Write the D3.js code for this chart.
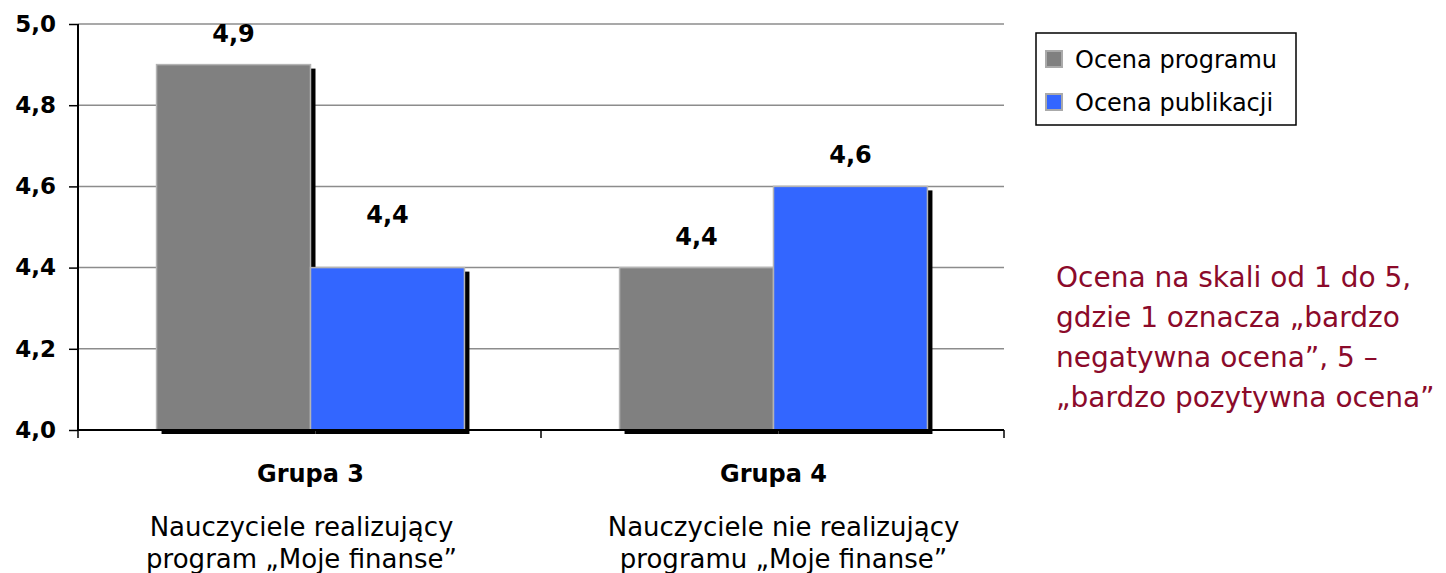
<!DOCTYPE html>
<html>
<head>
  <meta charset="utf-8">
  <title>Ocena programu i publikacji</title>
  <script src="https://d3js.org/d3.v7.min.js"></script>
  <style>
    body { margin: 0; background: #fff; }
    text { font-family: "DejaVu Sans", sans-serif; }
  </style>
</head>
<body>
  <div id="chart"></div>
  <script>
    // data
    var groups = ['Grupa 3', 'Grupa 4'];
    var groupNotes = [
      ['Nauczyciele realizujący', 'program „Moje finanse”'],
      ['Nauczyciele nie realizujący', 'programu „Moje finanse”']
    ];
    var seriesNames = ['Ocena programu', 'Ocena publikacji'];
    var seriesColours = ['#808080', '#3366ff'];
    var programu = [4.9, 4.4];
    var publikacji = [4.4, 4.6];
    var yTicks = [4.0, 4.2, 4.4, 4.6, 4.8, 5.0];
    var noteLines = [
      'Ocena na skali od 1 do 5,',
      'gdzie 1 oznacza „bardzo',
      'negatywna ocena”, 5 –',
      '„bardzo pozytywna ocena”'
    ];
    // how far above each bar its label sits (series x group)
    var labelLift = [[23, 23], [45, 23]];

    var W = 1446, H = 573;
    var margin = {top: 24, left: 78, right: 442, bottom: 143};
    var width = W - margin.left - margin.right,
        height = H - margin.top - margin.bottom;

    var svg = d3.select('#chart').append('svg')
      .attr('width', W)
      .attr('height', H);

    var gp = svg.append('g').attr('transform', `translate(${margin.left},${margin.top})`);

    var x0 = d3.scaleBand().domain(groups).range([1, width + 1]).paddingInner(0.335).paddingOuter(0.1675);
    var x1 = d3.scaleBand().domain(seriesNames).range([0, x0.bandwidth()]);
    var y = d3.scaleLinear().domain([4.0, 5.0]).range([height, 0]);
    var fmt = v => d3.format('.1f')(v).replace('.', ',');

    // gridlines
    gp.selectAll('.grid')
      .data(yTicks.slice(1))
      .enter()
      .append('line')
        .attr('x1', 0).attr('x2', width)
        .attr('y1', d => y(d)).attr('y2', d => y(d))
        .attr('stroke', '#8c8c8c')
        .attr('stroke-width', 1.5);

    var rows = seriesNames.map((s, i) => ({
      name: s,
      colour: seriesColours[i],
      values: (i === 0 ? programu : publikacji)
    }));
    var bars = [];
    rows.forEach((r, si) => r.values.forEach((v, gi) => bars.push({series: r.name, si: si, gi: gi, group: groups[gi], value: v, colour: r.colour})));

    // shadows
    gp.selectAll('.shadow')
      .data(bars)
      .enter()
      .append('rect')
        .attr('x', d => x0(d.group) + x1(d.series) + 5)
        .attr('y', d => y(d.value) + 4)
        .attr('width', x1.bandwidth())
        .attr('height', d => height - y(d.value))
        .attr('fill', '#000');

    gp.selectAll('.bar')
      .data(bars)
      .enter()
      .append('rect')
        .attr('x', d => x0(d.group) + x1(d.series))
        .attr('y', d => y(d.value))
        .attr('width', x1.bandwidth())
        .attr('height', d => height - y(d.value))
        .attr('fill', d => d.colour)
        .attr('stroke', '#b4b4b4')
        .attr('stroke-width', 1.5);

    gp.selectAll('.val')
      .data(bars)
      .enter()
      .append('text')
        .attr('x', d => x0(d.group) + x1(d.series) + x1.bandwidth() / 2)
        .attr('y', d => y(d.value) - labelLift[d.si][d.gi])
        .attr('text-anchor', 'middle')
        .style('font-size', '24px')
        .style('font-weight', 'bold')
        .text(d => fmt(d.value));

    // y axis
    var yAxis = gp.append('g')
      .call(d3.axisLeft(y).tickValues(yTicks).tickFormat(fmt).tickSize(9).tickPadding(13));
    yAxis.select('.domain').attr('stroke', '#000').attr('stroke-width', 2).attr('d', `M0,0V${height}`);
    yAxis.selectAll('.tick line').attr('stroke-width', 1.5);
    yAxis.selectAll('text')
      .style('font-size', '23px')
      .style('font-weight', 'bold')
      .attr('fill', '#000');

    // x axis
    var xAxis = gp.append('g').attr('transform', `translate(0,${height})`);
    xAxis.append('line')
      .attr('x1', 0).attr('x2', width)
      .attr('stroke', '#000').attr('stroke-width', 2);
    xAxis.selectAll('.xtick')
      .data([0, 1, 2])
      .enter()
      .append('line')
        .attr('x1', d => d * width / 2).attr('x2', d => d * width / 2)
        .attr('y1', 0).attr('y2', 8)
        .attr('stroke', '#000').attr('stroke-width', 1.5);

    var cat = xAxis.selectAll('.cat')
      .data(groups)
      .enter()
      .append('g')
        .attr('transform', d => `translate(${x0(d) + x0.bandwidth() / 2},0)`);
    cat.append('text')
      .attr('y', 52)
      .attr('text-anchor', 'middle')
      .style('font-size', '24px')
      .style('font-weight', 'bold')
      .text(d => d);
    cat.each(function (d, i) {
      d3.select(this).selectAll('.note')
        .data(groupNotes[i])
        .enter()
        .append('text')
          .attr('x', i === 0 ? -9 : 10)
          .attr('y', (t, j) => 106 + j * 32)
          .attr('text-anchor', 'middle')
          .style('font-size', '26px')
          .text(t => t);
    });

    // legend
    var leg = svg.append('g').attr('transform', 'translate(1036,33)');
    leg.append('rect')
      .attr('width', 260).attr('height', 92)
      .attr('fill', '#fff').attr('stroke', '#000').attr('stroke-width', 1.5);
    var li = leg.selectAll('.li')
      .data(rows)
      .enter()
      .append('g')
        .attr('transform', (d, i) => `translate(10,${18 + i * 43})`);
    li.append('rect')
      .attr('width', 16).attr('height', 16)
      .attr('fill', d => d.colour)
      .attr('stroke', '#aaa').attr('stroke-width', 2);
    li.append('text')
      .attr('x', 29).attr('y', 17)
      .style('font-size', '24px')
      .text(d => d.name);

    // note on the right
    svg.append('g')
      .selectAll('text')
      .data(noteLines)
      .enter()
      .append('text')
        .attr('x', 1056)
        .attr('y', (d, i) => 287 + i * 40)
        .attr('fill', '#8b0a2a')
        .style('font-size', '28px')
        .text(d => d);
  </script>
</body>
</html>
